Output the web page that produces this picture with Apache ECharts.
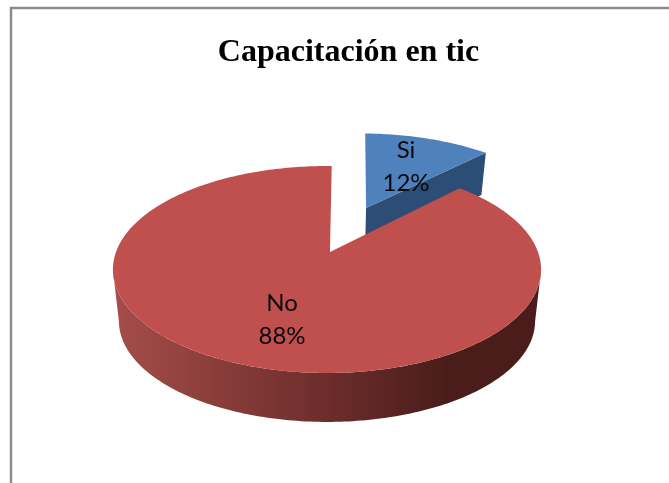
<!DOCTYPE html>
<html>
<head>
<meta charset="utf-8">
<script src="https://cdn.jsdelivr.net/npm/echarts@6/dist/echarts.min.js"></script>
<style>html,body{margin:0;padding:0;background:#fff}#c{width:669px;height:483px}</style>
</head>
<body>
<div id="c"></div>
<script>
var categories = ['Si', 'No'];
var values = [12, 88];
var colors = ['#4F81BD', '#C0504D'];
var titleText = 'Capacitación en tic';

// Layout of the perspective disc
var L = { ox: 327, oy: 252, w: 211, h: 100.5, k: 0.169, depth: [45, 52], sy: [1.03, 0.975], sx: 0.972, rot: 1.5,
  explode: [[0.2, 0.473], [0, 0]], apexShift: [[0, 0], [0.014, 0]] };
var labelAt = [[406, 167], [282, 320]];

function project(X, Y, bottom, i) {
  var d = 1 + L.k * Y;
  return [
    L.ox + (bottom ? L.sx : 1) * L.w * X / d,
    L.oy + (bottom ? L.depth[i] : 0) - (bottom ? L.sy[i] : 1) * L.h * Y / d
  ];
}
function rim(t, off, bottom, i) {
  var r = t * Math.PI / 180;
  return project(off[0] + Math.sin(r), off[1] + Math.cos(r), bottom, i);
}
function arc(a, b, off, bottom, i) {
  var pts = [], n = Math.max(2, Math.ceil(Math.abs(b - a)));
  for (var s = 0; s <= n; s++) pts.push(rim(a + (b - a) * s / n, off, bottom, i));
  return pts;
}

var total = values.reduce(function (s, v) { return s + v; }, 0);

function renderItem(params, api) {
  var i = params.dataIndex, before = 0;
  for (var j = 0; j < i; j++) before += values[j];
  var a = L.rot + before / total * 360;
  var b = a + values[i] / total * 360;
  var off = L.explode[i];
  var sh = L.apexShift[i];
  var apex = project(off[0] + sh[0], off[1] + sh[1], false, i);
  var apexB = project(off[0] + sh[0], off[1] + sh[1], true, i);
  var top = [apex].concat(arc(a, b, off, false, i));
  var children = [];

  if (i === 0) {
    // cut face of the raised slice
    children.push({ type: 'polygon', shape: { points: [apex, rim(b, off, false, i), rim(b, off, true, i), apexB] },
      style: { fill: '#2C4D75' } });
  } else {
    // outer wall, front of the disc, between the two side tangents
    var t0 = Math.max(a, 100), t1 = Math.min(b, 260);
    var wall = arc(t0, t1, off, false, i).concat(arc(t0, t1, off, true, i).reverse());
    children.push({ type: 'polygon', shape: { points: wall }, style: {
      fill: new echarts.graphic.LinearGradient(113, 0, 541, 0, [
        { offset: 0, color: '#A54D4A' },
        { offset: 0.5, color: '#6C2D2B' },
        { offset: 0.78, color: '#4A1D1B' },
        { offset: 1, color: '#4A1D1B' }
      ], true) } });
  }
  children.push({ type: 'polygon', shape: { points: top }, style: { fill: colors[i] } });
  children.push({ type: 'text', style: {
    x: labelAt[i][0], y: labelAt[i][1],
    text: categories[i] + '\n' + values[i] + '%',
    fill: '#0a0a0a', font: '24px Lato', lineHeight: 33, align: 'center', verticalAlign: 'middle'
  } });
  return { type: 'group', children: children };
}

var chart = echarts.init(document.getElementById('c'), null, { renderer: 'canvas' });
chart.setOption({
  backgroundColor: '#fff',
  animation: false,
  title: {
    text: titleText, left: 343.5, top: 32, textAlign: 'center',
    textStyle: { fontFamily: 'Liberation Serif', fontWeight: 'bold', fontSize: 32, color: '#000' }
  },
  graphic: [{
    type: 'polyline', silent: true,
    shape: { points: [[11, 490], [11, 8], [680, 8]] },
    style: { fill: null, stroke: '#8C8C8C', lineWidth: 2.5 }
  }],
  series: [{
    type: 'custom', coordinateSystem: 'none', silent: true,
    data: categories.map(function (c, i) { return { name: c, value: values[i] }; }),
    renderItem: renderItem
  }]
});
</script>
</body>
</html>
